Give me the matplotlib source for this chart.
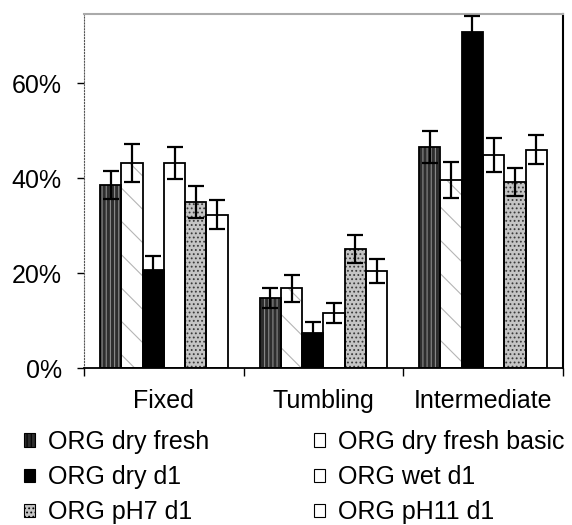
import numpy as np
import matplotlib
matplotlib.use("Agg")
import matplotlib.pyplot as plt
from matplotlib.patches import Patch
from matplotlib.ticker import PercentFormatter

plt.rcParams["font.family"] = ["Liberation Sans", "DejaVu Sans"]
plt.rcParams["hatch.linewidth"] = 0.8

categories = ["Fixed", "Tumbling", "Intermediate"]
series = ["ORG dry fresh", "ORG dry fresh basic", "ORG dry d1",
          "ORG wet d1", "ORG pH7 d1", "ORG pH11 d1"]
values = [
    [38.5, 14.7, 46.6],   # dry fresh
    [43.2, 16.8, 39.6],   # dry fresh basic
    [20.6, 7.4, 70.8],    # dry d1
    [43.2, 11.5, 44.9],   # wet d1
    [34.9, 25.1, 39.2],   # pH7 d1
    [32.3, 20.4, 46.0],   # pH11 d1
]
errors = [
    [3.0, 2.1, 3.4],
    [4.0, 2.8, 3.8],
    [3.0, 2.2, 3.3],
    [3.4, 2.1, 3.6],
    [3.4, 3.0, 3.0],
    [3.0, 2.6, 3.0],
]

# face colour, hatch, hatch colour
styles = [
    ("#2e2e2e", "||||", "#8a8a8a"),
    ("white", "\\", "#b5b5b5"),
    ("black", None, "black"),
    ("white", None, "white"),
    ("#c4c4c4", "....", "#3a3a3a"),
    ("white", None, "white"),
]

fig = plt.figure(figsize=(5.72, 5.25), dpi=100)
ax = fig.add_axes([0.147, 0.299, 0.837, 0.674])

x = np.arange(len(categories))
n = len(series)
w = 0.8 / n
handles = []
for i, name in enumerate(series):
    pos = x - 0.4 + w * (i + 0.5)
    fc, hatch, hc = styles[i]
    ax.bar(pos, values[i], w, color=fc, hatch=hatch, edgecolor=hc, linewidth=0, zorder=2)
    ax.bar(pos, values[i], w, fill=False, edgecolor="black", linewidth=1.3, zorder=3)
    ax.errorbar(pos, values[i], yerr=errors[i], fmt="none", ecolor="black",
                elinewidth=1.6, capsize=6, capthick=1.6, zorder=4)
    handles.append(Patch(facecolor=fc, hatch=hatch, edgecolor="black", linewidth=0.8, label=name))

ax.set_xlim(-0.5, 2.5)
ax.set_ylim(0, 74.5)
ax.set_yticks([0, 20, 40, 60])
ax.yaxis.set_major_formatter(PercentFormatter(decimals=0))
ax.set_xticks(x)
ax.set_xticklabels(categories)
ax.set_xticks([-0.5, 0.5, 1.5, 2.5], minor=True)
ax.tick_params(axis="x", which="major", length=0, pad=15, labelsize=18)
ax.tick_params(axis="x", which="minor", length=6, width=1, direction="out")
ax.tick_params(axis="y", length=5, width=1, labelsize=18, pad=11)

ax.spines["top"].set_color("#aaaaaa")
ax.spines["top"].set_linewidth(1.5)
ax.spines["left"].set_color("#555555")
ax.spines["left"].set_linestyle(":")
ax.spines["right"].set_color("black")
ax.spines["right"].set_linewidth(1.5)
ax.spines["bottom"].set_linewidth(1.3)

order = [0, 2, 4, 1, 3, 5]
fig.legend([handles[k] for k in order], [series[k] for k in order],
           loc="upper left", bbox_to_anchor=(0.042, 0.181), ncol=2,
           frameon=False, fontsize=18, handlelength=0.45, handleheight=0.45,
           handletextpad=0.5, labelspacing=0.45, columnspacing=4.2,
           borderaxespad=0, borderpad=0)

fig.savefig("out.png", dpi=100)
